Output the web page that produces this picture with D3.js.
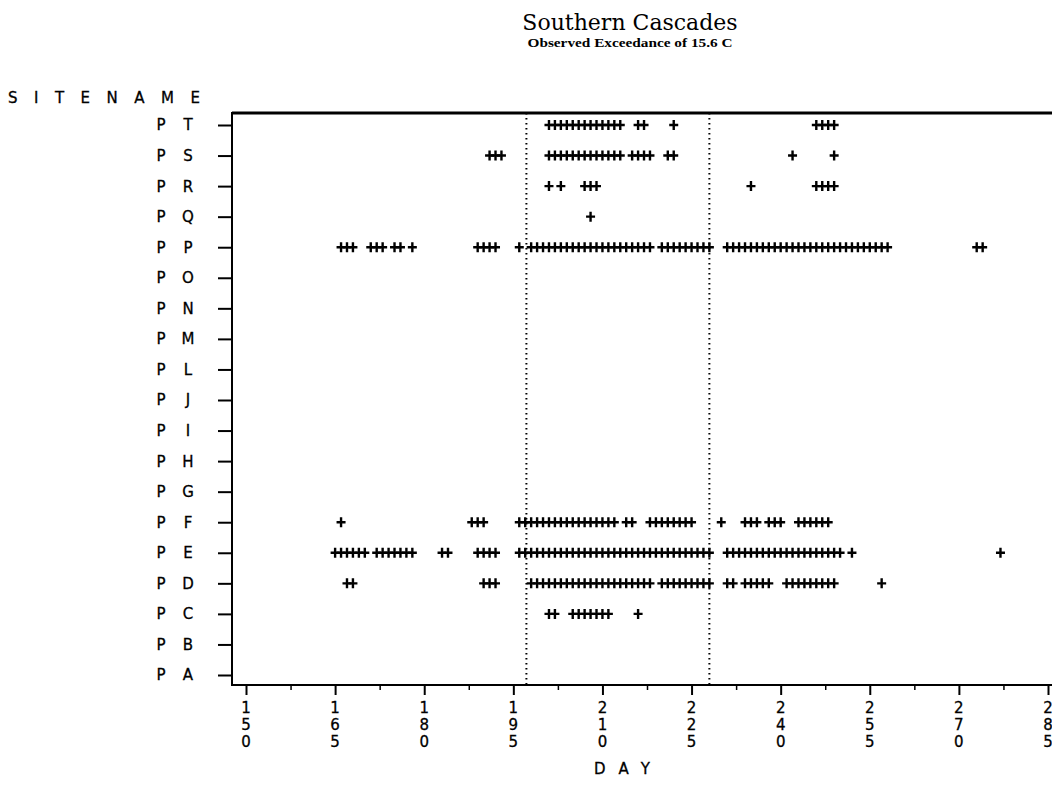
<!DOCTYPE html>
<html><head><meta charset="utf-8">
<script src="https://cdn.jsdelivr.net/npm/d3@7"></script>
<style>body{margin:0;background:#fff}svg{display:block}</style>
</head><body><div id="chart"></div>
<script>
// Categories (top to bottom)
const sites = ["PT","PS","PR","PQ","PP","PO","PN","PM","PL","PJ","PI","PH","PG","PF","PE","PD","PC","PB","PA"];
// Days on which each site exceeded 15.6 C
const daysPT = [201,202,203,204,205,206,207,208,209,210,211,212,213,216,217,222,246,247,248,249];
const daysPS = [191,192,193,201,202,203,204,205,206,207,208,209,210,211,212,213,215,216,217,218,221,222,242,249];
const daysPR = [201,203,207,208,209,235,246,247,248,249];
const daysPQ = [208];
const daysPP = [166,167,168,171,172,173,175,176,178,189,190,191,192,196,
  198,199,200,201,202,203,204,205,206,207,208,209,210,211,212,213,214,215,216,217,218,
  220,221,222,223,224,225,226,227,228,
  231,232,233,234,235,236,237,238,239,240,241,242,243,244,245,246,247,248,249,250,251,252,253,254,255,256,257,258,
  273,274];
const daysPF = [166,188,189,190,196,197,198,199,200,201,202,203,204,205,206,207,208,209,210,211,212,214,215,
  218,219,220,221,222,223,224,225,230,234,235,236,238,239,240,243,244,245,246,247,248];
const daysPE = [165,166,167,168,169,170,172,173,174,175,176,177,178,183,184,189,190,191,192,
  196,197,198,199,200,201,202,203,204,205,206,207,208,209,210,211,212,213,214,215,216,217,218,219,220,221,222,223,224,225,226,227,228,
  231,232,233,234,235,236,237,238,239,240,241,242,243,244,245,246,247,248,249,250,252,277];
const daysPD = [167,168,190,191,192,198,199,200,201,202,203,204,205,206,207,208,209,210,211,212,213,214,215,216,217,218,
  220,221,222,223,224,225,226,227,228,231,232,234,235,236,237,238,241,242,243,244,245,246,247,248,249,257];
const daysPC = [201,202,205,206,207,208,209,210,211,216];
// Axis ticks and reference lines
const xTicks = [150,165,180,195,210,225,240,255,270,285];
const xMinorTicks = [157.5,172.5,187.5,202.5,217.5,232.5,247.5,262.5,277.5];
const refDays = [197.2,228];

const seriesBySite = {PT:daysPT,PS:daysPS,PR:daysPR,PQ:daysPQ,PP:daysPP,PF:daysPF,PE:daysPE,PD:daysPD,PC:daysPC};
const points = [];
for (const s of sites) for (const d of (seriesBySite[s]||[])) points.push({site:s, day:d});

const W = 1052, H = 808;
const svg = d3.select("#chart").append("svg").attr("width",W).attr("height",H);
const frameLeft = 232, frameTop = 113, frameBottom = 685;
const x = d3.scaleLinear().domain([150,285]).range([246,1048]);
const y = d3.scalePoint().domain(sites).range([125,675]);
const simplex = "'DejaVu Sans', sans-serif";

// Titles
svg.append("text").attr("x",630).attr("y",30).attr("text-anchor","middle")
  .style("font-family","'DejaVu Serif', 'Liberation Serif', serif").style("font-size","22px")
  .text("Southern Cascades");
svg.append("text").attr("x",630).attr("y",47).attr("text-anchor","middle")
  .style("font-family","'Liberation Serif', serif").style("font-size","13px").style("font-weight","bold")
  .attr("textLength",205).attr("lengthAdjust","spacingAndGlyphs")
  .text("Observed Exceedance of 15.6 C");

// Y axis label
svg.append("text").attr("x",8).attr("y",103)
  .style("font-family",simplex).style("font-size","15px")
  .attr("stroke","#000").attr("stroke-width",0.3)
  .attr("textLength",192).attr("lengthAdjust","spacing")
  .text("SITENAME");

// Frame
svg.append("path").attr("d",`M${W},${frameTop}H${frameLeft}V${frameBottom}H${W}`)
  .attr("fill","none").attr("stroke","#000").attr("stroke-width",2);
svg.append("line").attr("x1",frameLeft).attr("x2",W).attr("y1",frameTop).attr("y2",frameTop).attr("stroke","#000").attr("stroke-width",3);

// Y axis ticks
const yAxis = d3.axisLeft(y).tickSize(14).tickFormat("");
const gy = svg.append("g").attr("transform",`translate(${frameLeft},0)`).call(yAxis);
gy.select(".domain").remove();
gy.selectAll("line").attr("stroke","#000").attr("stroke-width",2);
// Y labels: letters spaced apart
const yl = svg.append("g").style("font-family",simplex).style("font-size","15px")
  .attr("stroke","#000").attr("stroke-width",0.3).attr("text-anchor","middle");
sites.forEach(s => {
  s.split("").forEach((ch,i) => {
    yl.append("text").attr("x",161 + i*27).attr("y",y(s)).attr("dy","0.36em").text(ch);
  });
});

// X axis ticks
const xAxis = d3.axisBottom(x).tickValues(xTicks).tickSize(10).tickFormat("");
const gx = svg.append("g").attr("transform",`translate(0,${frameBottom})`).call(xAxis);
gx.select(".domain").remove();
gx.selectAll("line").attr("stroke","#000").attr("stroke-width",2);
const xMinor = d3.axisBottom(x).tickValues(xMinorTicks).tickSize(5).tickFormat("");
const gxm = svg.append("g").attr("transform",`translate(0,${frameBottom})`).call(xMinor);
gxm.select(".domain").remove();
gxm.selectAll("line").attr("stroke","#000").attr("stroke-width",1.5);

// X tick labels (vertical digits)
const lab = svg.append("g").attr("stroke","#000").attr("stroke-width",0.3);
xTicks.forEach(t => {
  String(t).split("").forEach((ch,i) => {
    lab.append("text").attr("x",x(t)).attr("y",713 + i*17).attr("text-anchor","middle")
      .style("font-family",simplex).style("font-size","15px").text(ch);
  });
});
svg.append("text").attr("x",594).attr("y",774)
  .style("font-family",simplex).style("font-size","15px")
  .attr("stroke","#000").attr("stroke-width",0.3)
  .attr("textLength",56).attr("lengthAdjust","spacing").text("DAY");

// Reference lines
svg.selectAll(".ref").data(refDays).join("line").attr("class","ref")
  .attr("x1",d=>x(d)).attr("x2",d=>x(d)).attr("y1",frameTop).attr("y2",frameBottom)
  .attr("stroke","#000").attr("stroke-width",2).attr("stroke-dasharray","1.5,3.5");

// Points (+)
const pg = svg.append("g").attr("stroke","#000").attr("stroke-width",2.4);
pg.selectAll("path").data(points).join("path")
  .attr("d", d => {const cx=x(d.day), cy=y(d.site); return `M${cx-4.5},${cy}H${cx+4.5}M${cx},${cy-5}V${cy+5}`;});
</script></body></html>
